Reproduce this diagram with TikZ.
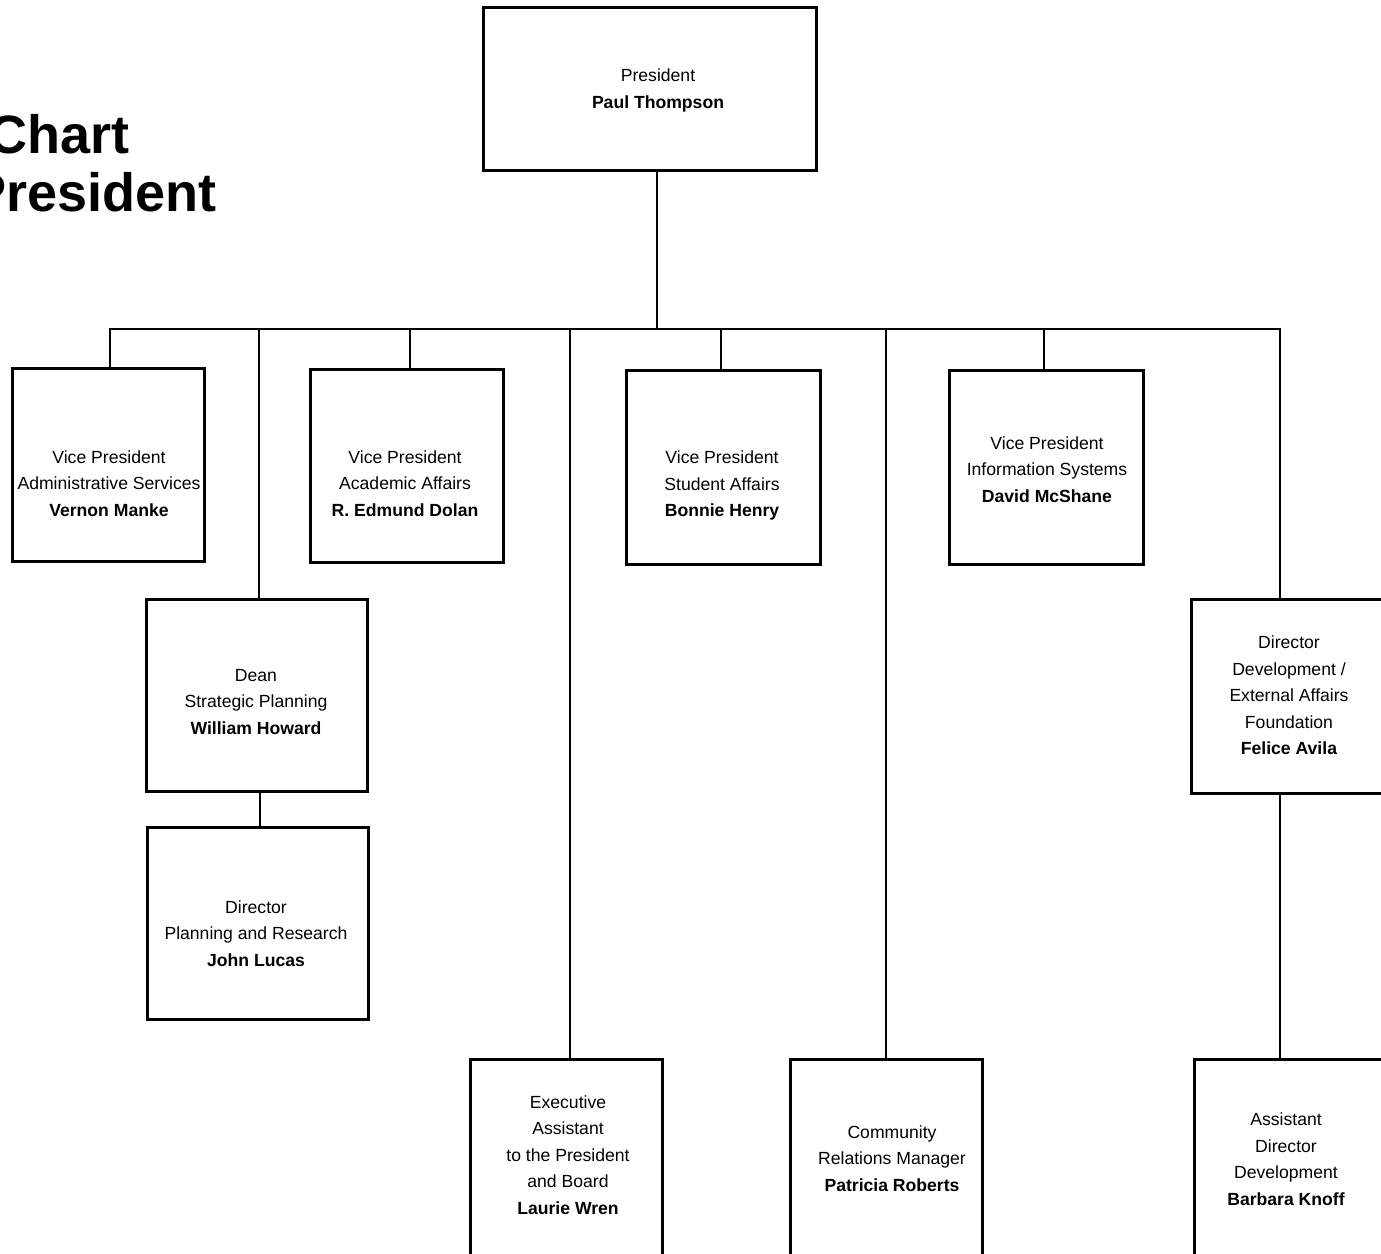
\documentclass[tikz,border=0pt]{standalone}
\usepackage{fontspec}
\setmainfont{Liberation Sans}
\begin{document}
\begin{tikzpicture}[x=1pt,y=-1pt,
  box/.style={draw, line width=3pt, rectangle, inner sep=0pt},
  lbl/.style={align=center, font=\fontsize{17.6}{26.5}\selectfont, inner sep=0pt},
  conn/.style={line width=2.9pt},
  ttl/.style={font=\fontsize{54}{60}\selectfont\bfseries, inner sep=0pt}]
\useasboundingbox (0,0) rectangle (1381,1253);
\clip (0,0) rectangle (1381,1253);

% title (cut off at left edge, as in the reference)
\node[ttl, anchor=base east] (t1) at (130,153) {Chart};
\node[ttl, anchor=base east] (t2) at (217,211) {President};

% boxes
\node[box, minimum width=333pt, minimum height=163pt] (pres) at (650,89) {};
\node[box, minimum width=192pt, minimum height=193pt] (vpa) at (108.5,465) {};
\node[box, minimum width=193pt, minimum height=193pt] (vpb) at (407,466) {};
\node[box, minimum width=194pt, minimum height=194pt] (vpc) at (723.5,467.5) {};
\node[box, minimum width=194pt, minimum height=194pt] (vpd) at (1046.5,467.5) {};
\node[box, minimum width=221pt, minimum height=192pt] (dean) at (257,695.5) {};
\node[box, minimum width=221pt, minimum height=192pt] (dirpr) at (258,923.5) {};
\node[box, minimum width=192pt, minimum height=240.5pt] (exec) at (566.5,1179.75) {};
\node[box, minimum width=192pt, minimum height=240.5pt] (comm) at (886.5,1179.75) {};
\node[box, minimum width=228.5pt, minimum height=194pt] (dev) at (1305.75,696.5) {};
\node[box, minimum width=225.5pt, minimum height=240.5pt] (asst) at (1307.25,1179.75) {};

% labels
\node[lbl] (presT) at (658,90.5) {President\\\textbf{Paul Thompson}};
\node[lbl] (vpaT) at (109,483.5) {Vice President\\Administrative Services\\\textbf{Vernon Manke}};
\node[lbl] (vpbT) at (405,483.5) {Vice President\\Academic Affairs\\\textbf{R. Edmund Dolan}};
\node[lbl] (vpcT) at (722,485.5) {Vice President\\Student Affairs\\\textbf{Bonnie Henry}};
\node[lbl] (vpdT) at (1047,469.5) {Vice President\\Information Systems\\\textbf{David McShane}};
\node[lbl] (deanT) at (256,702) {Dean\\Strategic Planning\\\textbf{William Howard}};
\node[lbl] (dirprT) at (256,933.5) {Director\\Planning and Research\\\textbf{John Lucas}};
\node[lbl] (execT) at (568,1155) {Executive\\Assistant\\to the President\\and Board\\\textbf{Laurie Wren}};
\node[lbl] (commT) at (892,1158.5) {Community\\Relations Manager\\\textbf{Patricia Roberts}};
\node[lbl] (devT) at (1289,695.5) {Director\\Development /\\External Affairs\\Foundation\\\textbf{Felice Avila}};
\node[lbl] (asstT) at (1286,1159) {Assistant\\Director\\Development\\\textbf{Barbara Knoff}};

% bus coordinates
\coordinate (bus) at (657,329);
\coordinate (ba) at (110,329);
\coordinate (bdean) at (259,329);
\coordinate (bb) at (410,329);
\coordinate (bexec) at (570,329);
\coordinate (bc) at (721,329);
\coordinate (bcomm) at (886,329);
\coordinate (bd) at (1044,329);
\coordinate (bdev) at (1280,329);
\coordinate (cdr) at (260,0);
\coordinate (cas) at (1280,0);

% connectors
\draw[conn] (pres.south -| bus) -- (bus);
\draw[conn] (ba |- vpa.north) -- (ba) -- (bdev) -- (bdev |- dev.north);
\draw[conn] (bdean) -- (bdean |- dean.north);
\draw[conn] (bb) -- (bb |- vpb.north);
\draw[conn] (bexec) -- (bexec |- exec.north);
\draw[conn] (bc) -- (bc |- vpc.north);
\draw[conn] (bcomm) -- (bcomm |- comm.north);
\draw[conn] (bd) -- (bd |- vpd.north);
\draw[conn] (cdr |- dean.south) -- (cdr |- dirpr.north);
\draw[conn] (cas |- dev.south) -- (cas |- asst.north);
\end{tikzpicture}
\end{document}
